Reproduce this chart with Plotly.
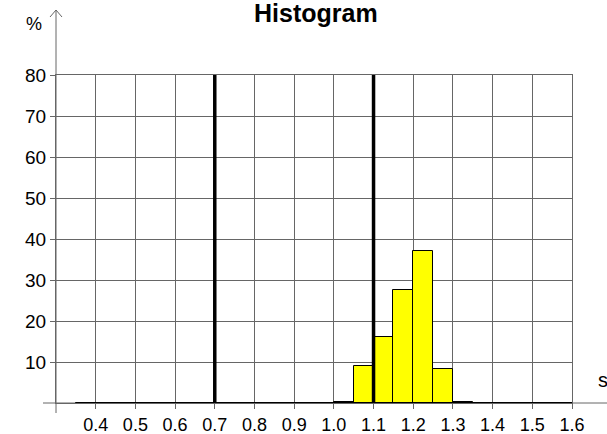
import plotly.graph_objects as go

# ---- data ----
bin_centers = [0.375, 0.425, 0.475, 0.525, 0.575, 0.625, 0.675, 0.725, 0.775, 0.825,
               0.875, 0.925, 0.975, 1.025, 1.075, 1.125, 1.175, 1.225, 1.275, 1.325,
               1.375, 1.425, 1.475, 1.525, 1.575]
percent = [0, 0, 0, 0, 0, 0, 0, 0, 0, 0,
           0, 0, 0, 0.3, 9.0, 16.0, 27.5, 37.0, 8.2, 0.3,
           0, 0, 0, 0, 0]
bin_width = 0.05
limits = [0.7, 1.1]
x_ticks = [0.4, 0.5, 0.6, 0.7, 0.8, 0.9, 1.0, 1.1, 1.2, 1.3, 1.4, 1.5, 1.6]
x_tick_labels = ["0.4", "0.5", "0.6", "0.7", "0.8", "0.9", "1.0", "1.1", "1.2", "1.3", "1.4", "1.5", "1.6"]
y_ticks = [10, 20, 30, 40, 50, 60, 70, 80]
y_tick_labels = ["10", "20", "30", "40", "50", "60", "70", "80"]
x_min, x_max = 0.3, 1.6
y_min, y_max = 0, 80

W, H = 607, 434
ML, MR, MT, MB = 56, 35, 75, 31
PW, PH = W - ML - MR, H - MT - MB

def px_x(p):  # pixel -> paper x
    return (p - ML) / PW

def px_y(p):  # pixel -> paper y
    return (H - MB - p) / PH

GRID = "#666666"
NARROW = "Liberation Sans Narrow, Arial Narrow, Liberation Sans, Arial, sans-serif"
SANS = "Liberation Sans, Arial, sans-serif"

fig = go.Figure()

fig.add_trace(go.Bar(
    x=bin_centers, y=percent, width=bin_width,
    marker=dict(color="#FFFF00", line=dict(color="black", width=1)),
    hoverinfo="skip", showlegend=False,
))

# baseline of histogram range
fig.add_trace(go.Scatter(
    x=[bin_centers[0] - bin_width / 2, bin_centers[-1] + bin_width / 2], y=[0, 0],
    mode="lines", line=dict(color="black", width=2), showlegend=False, hoverinfo="skip",
))

for v in limits:
    fig.add_trace(go.Scatter(
        x=[v, v], y=[y_min, y_max], mode="lines",
        line=dict(color="black", width=3.5), showlegend=False, hoverinfo="skip",
    ))

shapes = [
    dict(type="line", xref="paper", yref="paper", x0=px_x(43), x1=px_x(W), y0=0, y1=0,
         line=dict(color=GRID, width=1), layer="below"),
    dict(type="line", xref="paper", yref="paper", x0=0, x1=0, y0=px_y(413), y1=px_y(10),
         line=dict(color=GRID, width=1)),
    dict(type="path", xref="paper", yref="paper",
         path=f"M {px_x(ML-6)} {px_y(17)} L 0 {px_y(10)} L {px_x(ML+6)} {px_y(17)}",
         line=dict(color=GRID, width=1)),
]

annotations = [
    dict(text="<b>Histogram</b>", xref="paper", yref="paper", x=px_x(315.5), y=px_y(13),
         showarrow=False, font=dict(family=SANS, size=25, color="black"),
         xanchor="center", yanchor="middle"),
    dict(text="%", xref="paper", yref="paper", x=px_x(34), y=px_y(23.5),
         showarrow=False, font=dict(family=SANS, size=18, color="black"),
         xanchor="center", yanchor="middle"),
    dict(text="s", xref="paper", yref="paper", x=px_x(603), y=px_y(380),
         showarrow=False, font=dict(family=NARROW, size=20, color="black"),
         xanchor="center", yanchor="middle"),
]

fig.update_layout(
    width=W, height=H,
    margin=dict(l=ML, r=MR, t=MT, b=MB, autoexpand=False),
    paper_bgcolor="white", plot_bgcolor="white",
    bargap=0,
    shapes=shapes, annotations=annotations,
    xaxis=dict(range=[x_min, x_max], tickmode="array", tickvals=x_ticks, ticktext=x_tick_labels,
               showgrid=True, gridcolor=GRID, gridwidth=1, zeroline=False,
               showline=True, mirror=True, linecolor=GRID, linewidth=1,
               ticks="outside", ticklen=5, tickcolor=GRID,
               tickfont=dict(family=NARROW, size=18, color="black"), automargin=False),
    yaxis=dict(range=[y_min, y_max], tickmode="array", tickvals=y_ticks, ticktext=y_tick_labels,
               showgrid=True, gridcolor=GRID, gridwidth=1, zeroline=False,
               showline=True, mirror=True, linecolor=GRID, linewidth=1,
               ticks="outside", ticklen=5, tickcolor=GRID,
               tickfont=dict(family=NARROW, size=19, color="black"), automargin=False),
)

fig.write_html("out.html", config={"displayModeBar": False},
               post_script="document.body.style.margin='0';document.body.style.overflow='hidden';")
